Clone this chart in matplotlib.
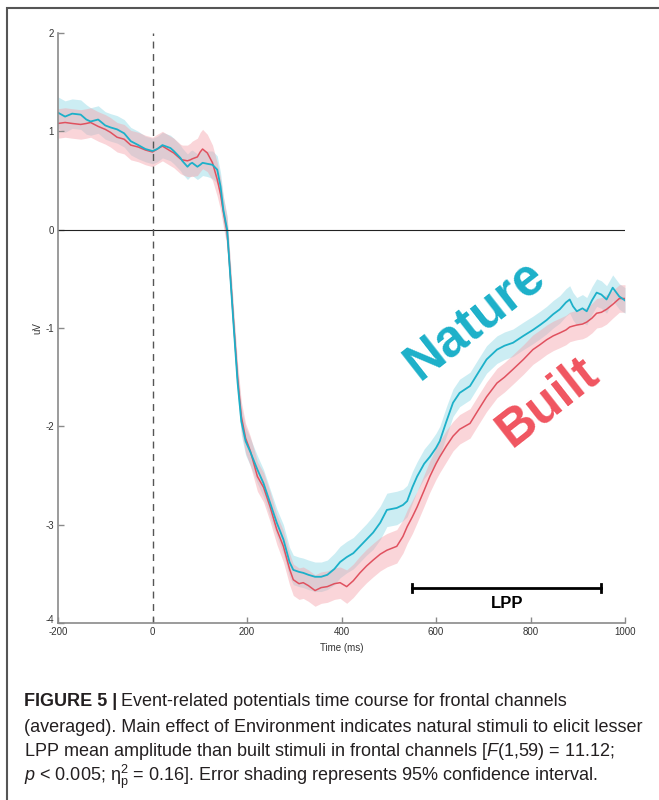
import matplotlib
matplotlib.use('Agg')
import matplotlib.pyplot as plt
from matplotlib.patches import Rectangle

# time points (ms)
times = [-200, -185, -170, -152, -140, -131, -115, -100, -89, -75,
         -60, -46, -30, -15, 0, 10, 21, 38, 45, 59,
         63, 74, 80, 84, 95, 101, 106, 116, 127, 137,
         144, 150, 158, 165, 172, 180, 188, 197, 207, 222,
         235, 249, 263, 277, 290, 298, 310, 319, 330, 344,
         357, 370, 385, 397, 411, 425, 439, 453, 467, 482,
         496, 517, 530, 539, 550, 560, 575, 587, 600, 608,
         622, 636, 650, 672, 690, 707, 729, 745, 763, 785,
         805, 820, 834, 848, 862, 875, 883, 890, 898, 910,
         919, 930, 940, 950, 961, 974, 988, 1000]

nature = [1.19, 1.15, 1.18, 1.17, 1.12, 1.10, 1.12, 1.06, 1.04, 1.02,
          0.98, 0.90, 0.86, 0.82, 0.80, 0.82, 0.86, 0.83, 0.80, 0.73,
          0.70, 0.64, 0.67, 0.68, 0.64, 0.66, 0.68, 0.67, 0.66, 0.61,
          0.44, 0.20, 0.00, -0.50, -1.00, -1.55, -1.95, -2.15, -2.26, -2.44,
          -2.58, -2.78, -2.98, -3.15, -3.38, -3.46, -3.48, -3.49, -3.51, -3.53,
          -3.53, -3.51, -3.45, -3.38, -3.33, -3.29, -3.22, -3.15, -3.08, -2.98,
          -2.85, -2.83, -2.80, -2.76, -2.62, -2.51, -2.38, -2.31, -2.22, -2.15,
          -1.95, -1.76, -1.66, -1.59, -1.45, -1.32, -1.22, -1.18, -1.15, -1.08,
          -1.02, -0.97, -0.92, -0.86, -0.81, -0.74, -0.71, -0.78, -0.83, -0.80,
          -0.83, -0.72, -0.64, -0.66, -0.71, -0.59, -0.68, -0.72]

built = [1.08, 1.09, 1.08, 1.07, 1.08, 1.09, 1.05, 1.02, 0.99, 0.94,
         0.92, 0.86, 0.84, 0.81, 0.79, 0.82, 0.85, 0.80, 0.78, 0.72,
         0.71, 0.70, 0.71, 0.72, 0.74, 0.79, 0.82, 0.78, 0.68, 0.51,
         0.36, 0.18, -0.03, -0.48, -0.97, -1.50, -1.90, -2.12, -2.25, -2.51,
         -2.62, -2.82, -3.05, -3.22, -3.45, -3.56, -3.60, -3.59, -3.62, -3.67,
         -3.64, -3.63, -3.60, -3.59, -3.63, -3.57, -3.49, -3.42, -3.36, -3.30,
         -3.26, -3.22, -3.12, -3.02, -2.92, -2.82, -2.65, -2.51, -2.38, -2.31,
         -2.20, -2.10, -2.03, -1.97, -1.83, -1.70, -1.56, -1.50, -1.42, -1.32,
         -1.22, -1.17, -1.12, -1.08, -1.05, -1.02, -0.99, -0.98, -0.97, -0.96,
         -0.94, -0.90, -0.85, -0.84, -0.81, -0.76, -0.70, -0.70]

# 95% CI half widths
nature_ci = [0.16, 0.16, 0.15, 0.15, 0.15, 0.14, 0.14, 0.14, 0.14, 0.14,
             0.14, 0.14, 0.14, 0.13, 0.13, 0.13, 0.13, 0.13, 0.13, 0.13,
             0.13, 0.13, 0.13, 0.13, 0.13, 0.13, 0.13, 0.13, 0.14, 0.14,
             0.14, 0.14, 0.14, 0.14, 0.14, 0.14, 0.14, 0.14, 0.14, 0.14,
             0.14, 0.14, 0.14, 0.15, 0.15, 0.15, 0.15, 0.15, 0.15, 0.15,
             0.15, 0.15, 0.16, 0.16, 0.16, 0.16, 0.16, 0.16, 0.17, 0.17,
             0.17, 0.17, 0.16, 0.16, 0.16, 0.15, 0.15, 0.15, 0.15, 0.15,
             0.15, 0.14, 0.14, 0.14, 0.14, 0.14, 0.14, 0.14, 0.14, 0.14,
             0.14, 0.14, 0.14, 0.14, 0.14, 0.14, 0.14, 0.14, 0.14, 0.14,
             0.14, 0.14, 0.14, 0.14, 0.14, 0.13, 0.13, 0.13]

built_ci = [0.15, 0.15, 0.15, 0.15, 0.15, 0.15, 0.15, 0.15, 0.15, 0.15,
            0.15, 0.15, 0.15, 0.15, 0.15, 0.15, 0.15, 0.15, 0.15, 0.15,
            0.15, 0.16, 0.17, 0.18, 0.19, 0.20, 0.20, 0.19, 0.18, 0.17,
            0.16, 0.15, 0.15, 0.15, 0.15, 0.15, 0.15, 0.15, 0.15, 0.15,
            0.15, 0.15, 0.15, 0.16, 0.16, 0.16, 0.16, 0.16, 0.16, 0.16,
            0.16, 0.16, 0.16, 0.16, 0.17, 0.17, 0.17, 0.17, 0.17, 0.17,
            0.17, 0.17, 0.17, 0.17, 0.17, 0.16, 0.16, 0.16, 0.16, 0.16,
            0.16, 0.15, 0.15, 0.15, 0.15, 0.15, 0.15, 0.15, 0.15, 0.15,
            0.15, 0.15, 0.15, 0.15, 0.15, 0.15, 0.15, 0.15, 0.15, 0.15,
            0.15, 0.15, 0.15, 0.15, 0.15, 0.14, 0.14, 0.14]

lpp_window = [550, 950]
lpp_level = -3.64

xticks = [-200, 0, 200, 400, 600, 800, 1000]
yticks = [-4, -3, -2, -1, 0, 1, 2]

caption = [
    "(averaged). Main effect of Environment indicates natural stimuli to elicit lesser",
    r"LPP mean amplitude than built stimuli in frontal channels [$F$(1,59) = 11.12;",
    r"$p$ < 0.005; $\mathregular{\eta^2_p}$ = 0.16]. Error shading represents 95% confidence interval.",
]

plt.rcParams['font.family'] = ['Liberation Sans', 'DejaVu Sans']
plt.rcParams['mathtext.fontset'] = 'custom'
plt.rcParams['mathtext.rm'] = 'Liberation Sans'
plt.rcParams['mathtext.it'] = 'Liberation Sans:italic'
plt.rcParams['axes.unicode_minus'] = False

cyan = '#1cb0c9'
red = '#e0515f'

fig = plt.figure(figsize=(6.59, 8.0), dpi=100)
ax = fig.add_axes([58 / 659, 1 - 623 / 800, 567 / 659, 590 / 800])

ax.fill_between(times, [v - c for v, c in zip(nature, nature_ci)],
                [v + c for v, c in zip(nature, nature_ci)],
                color='#8fd8e6', alpha=0.45, lw=0)
ax.fill_between(times, [v - c for v, c in zip(built, built_ci)],
                [v + c for v, c in zip(built, built_ci)],
                color='#f5a3ab', alpha=0.45, lw=0)
ax.plot(times, built, color=red, lw=1.1)
ax.plot(times, nature, color=cyan, lw=1.3)

ax.axhline(0, color='#222222', lw=0.8)
ax.axvline(0, color='#555555', lw=1, dashes=(5, 4))

ax.plot(lpp_window, [lpp_level, lpp_level], color='black', lw=2)
for x in lpp_window:
    ax.plot([x, x], [lpp_level - 0.04, lpp_level + 0.04], color='black', lw=2)
ax.text(sum(lpp_window) / 2, lpp_level - 0.16, 'LPP', ha='center', va='center',
        fontsize=12, fontweight='bold')

ax.text(682, -0.92, 'Nature', color=cyan, fontsize=37, fontweight='bold',
        rotation=38, ha='center', va='center', rotation_mode='anchor')
ax.text(836, -1.75, 'Built', color='#f05560', fontsize=37, fontweight='bold',
        rotation=38, ha='center', va='center', rotation_mode='anchor')

ax.set_xlim(-200, 1000)
ax.set_ylim(-4, 2)
ax.set_xticks(xticks)
ax.set_yticks(yticks)
for s in ['top', 'right']:
    ax.spines[s].set_visible(False)
for s in ['left', 'bottom']:
    ax.spines[s].set_color('#8a8a8a')
    ax.spines[s].set_linewidth(1.2)
ax.tick_params(direction='in', length=4, width=1, color='#8a8a8a',
               labelsize=7, labelcolor='#333333', pad=3)
ax.get_yticklabels()[0].set_va('baseline')
ax.set_xlabel('Time (ms)', fontsize=7, color='#333333', labelpad=4)
ax.set_ylabel('uV', fontsize=7, color='#333333', labelpad=2)

# outer frame
fig.patches.append(Rectangle((7 / 659, -0.1), 1.1, 1 - 8 / 800 + 0.1,
                             transform=fig.transFigure, fill=False,
                             edgecolor='#555555', lw=1.5))

# caption
cap_font = dict(fontsize=13, color='#231f20', va='center', ha='left')
t1 = fig.text(24 / 659, 1 - 702 / 800, 'FIGURE 5 |', fontweight='bold', **cap_font)
fig.canvas.draw()
bb = t1.get_window_extent(fig.canvas.get_renderer())
fig.text((bb.x1 + 4) / 659, 1 - 702 / 800,
         'Event-related potentials time course for frontal channels', **cap_font)
for i, line in enumerate(caption):
    fig.text(24 / 659, 1 - (727 + 25 * i) / 800, line, **cap_font)

fig.savefig('out.png', dpi=100)
